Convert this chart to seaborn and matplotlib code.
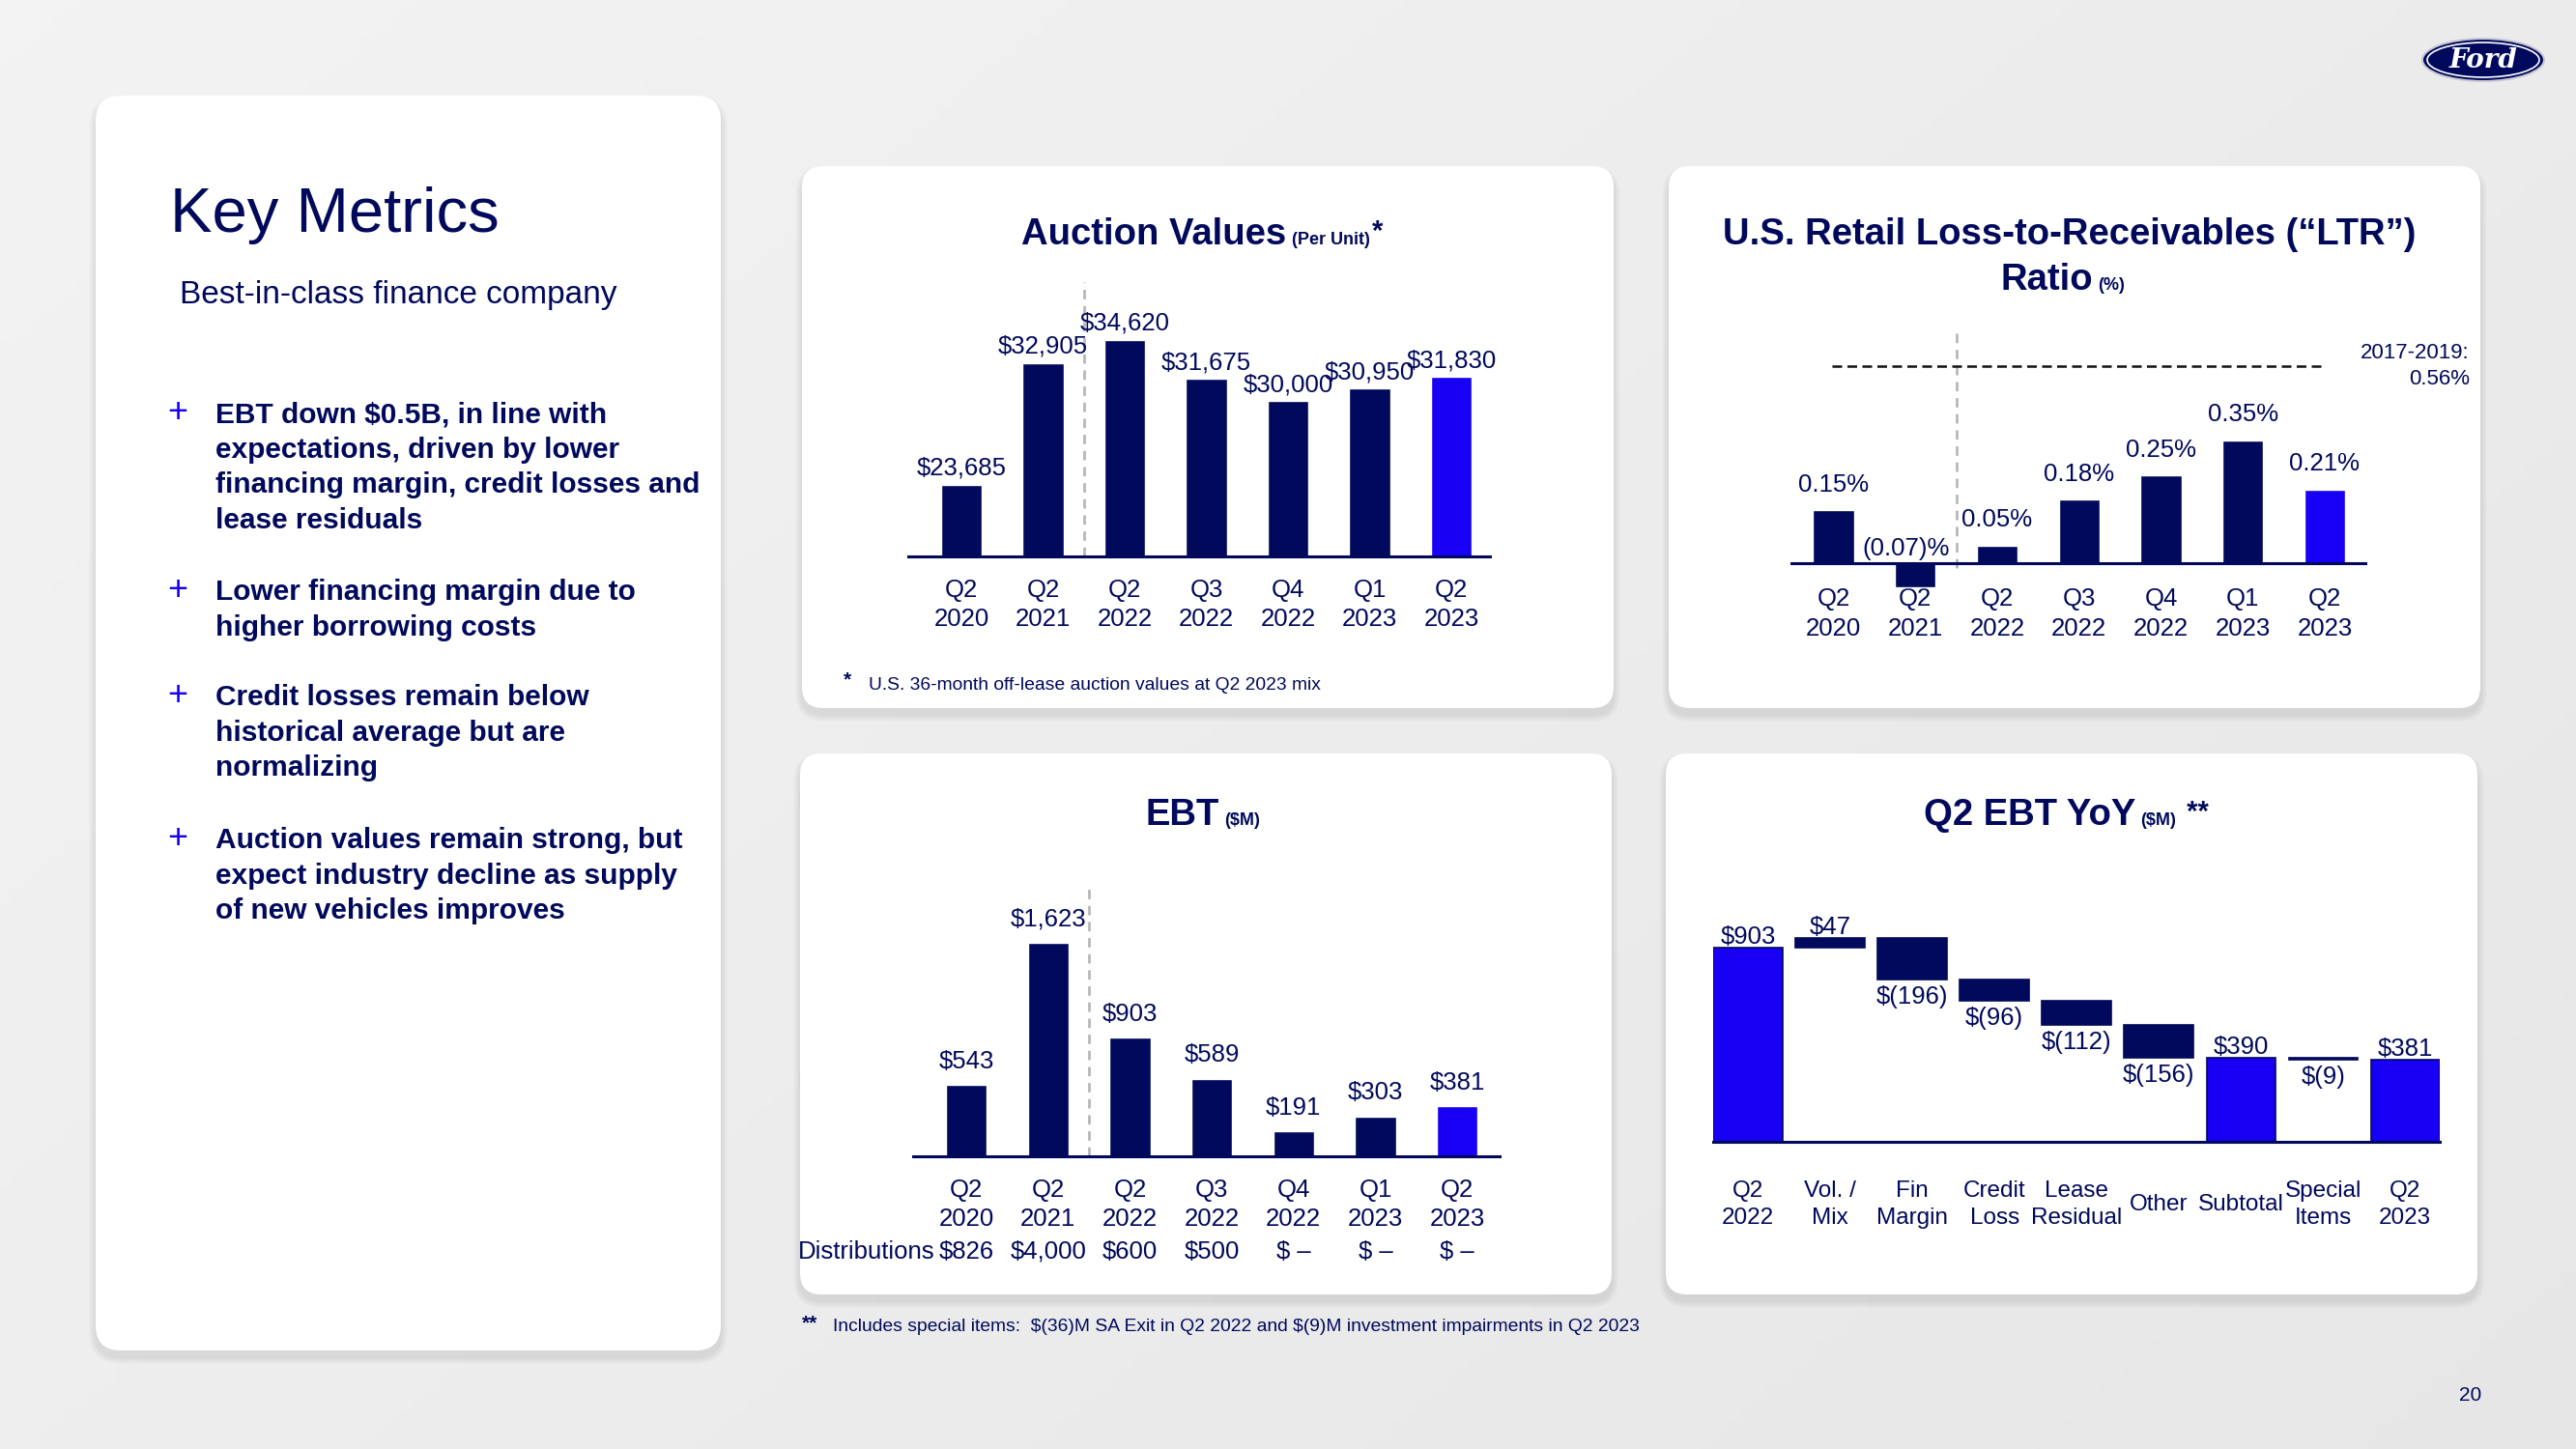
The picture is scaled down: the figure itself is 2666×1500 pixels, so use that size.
import numpy as np
import pandas as pd
import matplotlib.pyplot as plt
import seaborn as sns
from matplotlib.patches import FancyBboxPatch, Ellipse
from matplotlib.transforms import blended_transform_factory

quarters = ["Q2\n2020", "Q2\n2021", "Q2\n2022", "Q3\n2022", "Q4\n2022", "Q1\n2023", "Q2\n2023"]
auction_values = [23685, 32905, 34620, 31675, 30000, 30950, 31830]
ltr_ratio = [0.15, -0.07, 0.05, 0.18, 0.25, 0.35, 0.21]
ltr_avg_2017_2019 = 0.56
ebt = [543, 1623, 903, 589, 191, 303, 381]
distributions = ["$826", "$4,000", "$600", "$500", "$ –", "$ –", "$ –"]
yoy_steps = ["Q2\n2022", "Vol. /\nMix", "Fin\nMargin", "Credit\nLoss", "Lease\nResidual",
             "Other", "Subtotal", "Special\nItems", "Q2\n2023"]
yoy_values = [903, 47, -196, -96, -112, -156, 390, -9, 381]
yoy_is_total = [True, False, False, False, False, False, True, False, True]

bullets = [
    ["EBT down $0.5B, in line with", "expectations, driven by lower",
     "financing margin, credit losses and", "lease residuals"],
    ["Lower financing margin due to", "higher borrowing costs"],
    ["Credit losses remain below", "historical average but are", "normalizing"],
    ["Auction values remain strong, but", "expect industry decline as supply",
     "of new vehicles improves"],
]

# === 2. Estilo ===
sns.set_theme(style="white")
plt.rcParams["font.family"] = ["Liberation Sans", "DejaVu Sans"]
plt.rcParams["text.parse_math"] = False

W, H = 2666, 1500
NAVY = "#00095B"
BLUE = "#1700F4"
GREY = "#b8b8b8"
LAB = 18.5
TITLE = 27.5
SUB = 13
FOOT = 13.9
LS = 1.35

fig = plt.figure(figsize=(W / 100, H / 100), dpi=100)


def px_ax(x0, y0, x1, y1):
    return fig.add_axes([x0 / W, 1 - y1 / H, (x1 - x0) / W, (y1 - y0) / H])


def ftext(x, y, s, **kw):
    kw.setdefault("color", NAVY)
    return fig.text(x / W, 1 - y / H, s, **kw)


# fundo com leve degradê
bg = fig.add_axes([0, 0, 1, 1])
bg.set_xlim(0, W)
bg.set_ylim(H, 0)
bg.axis("off")
gx, gy = np.meshgrid(np.linspace(0, 1, 200), np.linspace(0, 1, 200))
bg.imshow(0.95 - 0.05 * (0.6 * gx + 0.4 * gy), cmap="gray", vmin=0, vmax=1,
          extent=(0, W, H, 0), aspect="auto", zorder=0)


def card(x0, y0, x1, y1, r=22):
    for k in range(1, 8):
        bg.add_patch(FancyBboxPatch((x0 - k, y0 - k + 7), x1 - x0 + 2 * k, y1 - y0 + 2 * k,
                                    boxstyle=f"round,pad=0,rounding_size={r + k}",
                                    fc="black", ec="none", alpha=0.011, zorder=1))
    bg.add_patch(FancyBboxPatch((x0, y0), x1 - x0, y1 - y0,
                                boxstyle=f"round,pad=0,rounding_size={r}",
                                fc="white", ec="none", zorder=2))


card(99, 99, 746, 1398, r=26)
card(830, 172, 1670, 733)
card(1727, 172, 2567, 733)
card(828, 780, 1668, 1340)
card(1724, 780, 2564, 1340)


def title(x_right, y_base, main, small, star=None):
    t = ftext(x_right, y_base, main, ha="right", va="baseline", fontsize=TITLE, fontweight="bold")
    s = bg.annotate(small, xy=(1, 0), xycoords=t, xytext=(4, 3.1), textcoords="offset points",
                    ha="left", va="bottom", fontsize=SUB, fontweight="bold", color=NAVY)
    if star:
        bg.annotate(star, xy=(1, 1), xycoords=s, xytext=(2, 0), textcoords="offset points",
                    ha="left", va="center", fontsize=21, fontweight="bold", color=NAVY)


def style_axes(ax, pad_pt, baseline=True, size=LAB):
    ax.set_facecolor("none")
    ax.set_xlabel("")
    ax.set_ylabel("")
    ax.set_yticks([])
    for s in ["left", "right", "top"]:
        ax.spines[s].set_visible(False)
    ax.spines["bottom"].set_visible(baseline)
    ax.spines["bottom"].set_color(NAVY)
    ax.spines["bottom"].set_linewidth(2.2)
    ax.tick_params(axis="x", length=0, pad=pad_pt, labelsize=size, labelcolor=NAVY)
    for t in ax.get_xticklabels():
        t.set_va("center")
        t.set_linespacing(LS)


def dashed_grey(ax, x, y0, y1):
    ax.vlines(x, y0, y1, color=GREY, lw=2.0, ls=(0, (3.5, 2.5)), zorder=0)


palette7 = [NAVY] * 6 + [BLUE]

# === 3. Auction Values ===
ax = px_ax(940, 292, 1542, 576)
df_auc = pd.DataFrame({"quarter": quarters, "value": auction_values})
sns.barplot(df_auc, x="quarter", y="value", hue="quarter", palette=palette7, width=0.5,
            saturation=1, legend=False, ax=ax)
ax.set_xlim(-0.651, 6.473)
ax.set_ylim(18300, 39000)
style_axes(ax, 36)
dashed_grey(ax, 1.5, 18300, 39000)
for i, v in enumerate(auction_values):
    ax.annotate(f"${v:,}", (i, v), xytext=(0, 12.5), textcoords="offset points",
                ha="center", va="center", fontsize=LAB, color=NAVY)
title(1331, 253, "Auction Values", "(Per Unit)", "*")
ftext(877, 704, "*", ha="center", va="center", fontsize=15, fontweight="bold")
ftext(899, 709, "U.S. 36-month off-lease auction values at Q2 2023 mix", ha="left",
      va="center", fontsize=FOOT)

# === 4. LTR ===
ax = px_ax(1853, 330, 2450, 611)
df_ltr = pd.DataFrame({"quarter": quarters, "value": ltr_ratio})
sns.barplot(df_ltr, x="quarter", y="value", hue="quarter", palette=palette7, width=0.5,
            saturation=1, legend=False, ax=ax)
ax.set_xlim(-0.525, 6.52)
ax.set_ylim(-28 / 364, 253 / 364)
style_axes(ax, 17.5, baseline=False)
ax.axhline(0, color=NAVY, lw=2.2)
dashed_grey(ax, 1.5, -0.015, 0.67)
ax.hlines(ltr_avg_2017_2019, -0.02, 5.96, color="#111111", lw=1.8, ls=(0, (4, 2.2)))
ax.text(7.77, ltr_avg_2017_2019, f"2017-2019:\n{ltr_avg_2017_2019:.2f}%", ha="right",
        va="center", fontsize=16, color=NAVY, linespacing=1.38, clip_on=False)
for i, v in enumerate(ltr_ratio):
    if v >= 0:
        ax.annotate(f"{v:.2f}%", (i, v), xytext=(0, 19), textcoords="offset points",
                    ha="center", va="center", fontsize=LAB, color=NAVY)
    else:
        ax.annotate(f"({abs(v):.2f})%", (i, 0), xytext=(-7, 10.5), textcoords="offset points",
                    ha="center", va="center", fontsize=LAB, color=NAVY)
ftext(2142, 253, "U.S. Retail Loss-to-Receivables (“LTR”)", ha="center", va="baseline",
      fontsize=TITLE, fontweight="bold")
title(2166, 300, "Ratio", "(%)")

# === 5. EBT ===
ax = px_ax(945, 900, 1552, 1197)
df_ebt = pd.DataFrame({"quarter": quarters, "value": ebt})
sns.barplot(df_ebt, x="quarter", y="value", hue="quarter", palette=palette7, width=0.5,
            saturation=1, legend=False, ax=ax)
ax.set_xlim(-0.649, 6.517)
ax.set_ylim(0, 2181)
style_axes(ax, 36)
dashed_grey(ax, 1.5, 0, 2048)
for i, v in enumerate(ebt):
    ax.annotate(f"${v:,}", (i, v), xytext=(0, 17.5), textcoords="offset points",
                ha="center", va="center", fontsize=LAB, color=NAVY)
row = blended_transform_factory(ax.transData, fig.transFigure)
for i, d in enumerate(distributions):
    ax.text(i, 1 - 1296 / H, d, transform=row, ha="center", va="center", fontsize=LAB,
            color=NAVY, clip_on=False)
ftext(968, 1296, "Distributions", ha="right", va="center", fontsize=LAB)
title(1262, 854, "EBT", "($M)")

# === 6. Q2 EBT YoY (cascata) ===
ax = px_ax(1773, 900, 2525, 1182)
bottoms, heights = [], []
running = 0
for v, tot in zip(yoy_values, yoy_is_total):
    if tot:
        bottoms.append(0)
        heights.append(v)
        running = v
    else:
        bottoms.append(min(running, running + v))
        heights.append(abs(v))
        running += v
ax.bar(range(len(yoy_steps)), heights, bottom=bottoms, width=0.84,
       color=[BLUE if t else NAVY for t in yoy_is_total], edgecolor=NAVY, linewidth=1.2)
ax.set_xticks(range(len(yoy_steps)))
ax.set_xticklabels(yoy_steps)
ax.set_xlim(-0.424, 8.42)
ax.set_ylim(0, 1269)
style_axes(ax, 47, size=17.5)
for i, (v, b, h) in enumerate(zip(yoy_values, bottoms, heights)):
    if v >= 0:
        ax.annotate(f"${v:,}", (i, b + h), xytext=(0, 8), textcoords="offset points",
                    ha="center", va="center", fontsize=LAB, color=NAVY)
    else:
        ax.annotate(f"$({abs(v)})", (i, b), xytext=(0, -13), textcoords="offset points",
                    ha="center", va="center", fontsize=LAB, color=NAVY)
title(2210, 854, "Q2 EBT YoY", "($M)", " **")
ftext(838, 1370, "**", ha="center", va="center", fontsize=15, fontweight="bold")
ftext(862, 1374, "Includes special items:  $(36)M SA Exit in Q2 2022 and $(9)M investment "
      "impairments in Q2 2023", ha="left", va="center", fontsize=FOOT)

# === 7. Painel esquerdo ===
ftext(176, 240, "Key Metrics", ha="left", va="baseline", fontsize=47)
ftext(186, 314, "Best-in-class finance company", ha="left", va="baseline", fontsize=24)
first_baselines = [437, 621, 730, 878]
for lines, yb in zip(bullets, first_baselines):
    ftext(184, yb, "+", ha="center", va="baseline", fontsize=26, color=BLUE)
    for k, line in enumerate(lines):
        ftext(223, yb + 36.7 * k, line, ha="left", va="baseline", fontsize=21.5,
              fontweight="bold")

# logo e número da página
bg.add_patch(Ellipse((2570, 62), 126, 44, fc=NAVY, ec="#c9c9d6", lw=1.5, zorder=5))
bg.add_patch(Ellipse((2570, 62), 116, 36, fc="none", ec="white", lw=1.2, zorder=6))
ftext(2570, 63, "Ford", ha="center", va="center", fontsize=20, color="white",
      fontstyle="italic", fontweight="bold", family="DejaVu Serif")
ftext(2557, 1444, "20", ha="center", va="center", fontsize=15)

fig.savefig("out.png", dpi=100)
